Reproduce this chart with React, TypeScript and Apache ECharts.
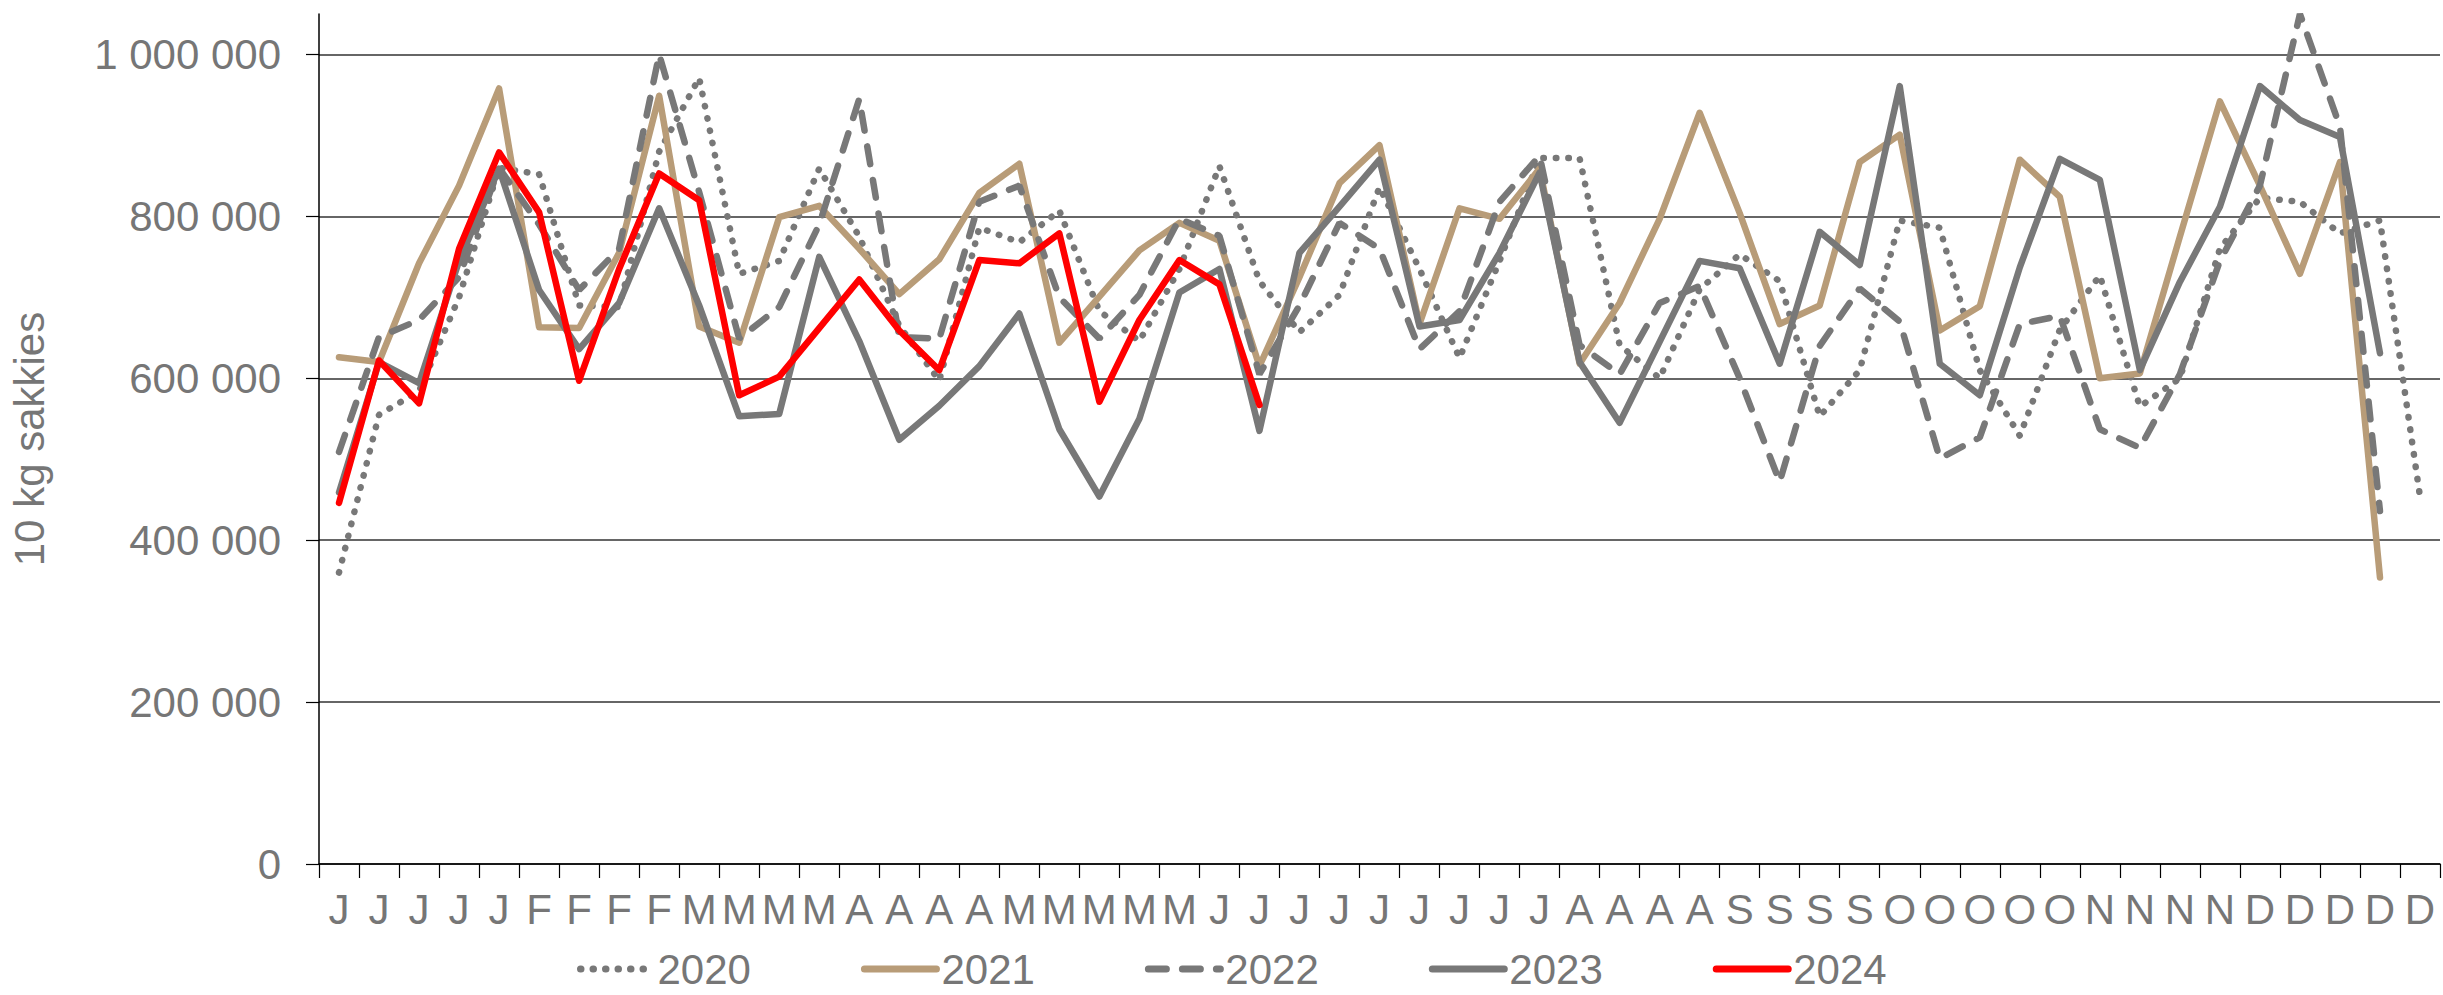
import React, { useEffect, useRef } from "react";
import * as echarts from "echarts";

const categories = [
  "J", "J", "J", "J", "J",
  "F", "F", "F", "F",
  "M", "M", "M", "M",
  "A", "A", "A", "A",
  "M", "M", "M", "M", "M",
  "J", "J", "J", "J", "J", "J", "J", "J", "J",
  "A", "A", "A", "A",
  "S", "S", "S", "S",
  "O", "O", "O", "O", "O",
  "N", "N", "N", "N",
  "D", "D", "D", "D", "D",
];

const s2020 = [
  360000, 555000, 584000, 700000, 860000, 852000, 690000, 688000, 880000, 971000,
  729000, 745000, 859000, 775000, 665000, 597000, 786000, 768000, 807000, 683000,
  646000, 735000, 862000, 720000, 657000, 703000, 836000, 735000, 625000, 745000,
  872000, 872000, 641000, 600000, 710000, 753000, 720000, 553000, 610000, 795000,
  786000, 610000, 529000, 660000, 727000, 565000, 600000, 760000, 823000, 818000,
  779000, 795000, 454000,
];

const s2021 = [
  626000, 620000, 742000, 838000, 958000, 663000, 662000, 755000, 949000, 664000,
  644000, 799000, 813000, 760000, 704000, 747000, 829000, 865000, 644000, 701000,
  758000, 792000, 770000, 615000, 725000, 841000, 888000, 667000, 810000, 797000,
  859000, 618000, 693000, 797000, 928000, 804000, 667000, 690000, 867000, 901000,
  659000, 689000, 870000, 824000, 600000, 606000, 775000, 942000, 838000, 729000,
  867000, 354000,
];

const s2022 = [
  509000, 651000, 672000, 725000, 860000, 790000, 709000, 760000, 1000000, 830000,
  649000, 688000, 790000, 945000, 651000, 649000, 818000, 838000, 700000, 649000,
  703000, 797000, 776000, 605000, 690000, 792000, 760000, 636000, 683000, 818000,
  875000, 641000, 605000, 693000, 714000, 600000, 472000, 640000, 711000, 670000,
  501000, 527000, 667000, 677000, 537000, 514000, 605000, 745000, 838000, 1050000,
  911000, 436000,
];

const s2023 = [
  459000, 620000, 594000, 745000, 859000, 709000, 636000, 693000, 810000, 690000,
  553000, 556000, 750000, 646000, 524000, 566000, 615000, 680000, 537000, 454000,
  550000, 706000, 735000, 535000, 755000, 812000, 870000, 664000, 672000, 755000,
  854000, 620000, 545000, 645000, 745000, 736000, 618000, 781000, 740000, 961000,
  618000, 579000, 737000, 871000, 845000, 610000, 719000, 812000, 961000, 919000,
  898000, 631000,
];

const s2024 = [
  446000, 622000, 569000, 760000, 879000, 805000, 597000, 735000, 853000, 820000,
  579000, 602000, 662000, 722000, 659000, 610000, 746000, 742000, 779000, 571000,
  672000, 746000, 716000, 567000,
];

const yTicks = [0, 200000, 400000, 600000, 800000, 1000000];
const legendNames = ["2020", "2021", "2022", "2023", "2024"];

const fmt = (v: number) => String(v).replace(/\B(?=(\d{3})+(?!\d))/g, " ");

export default function App() {
  const ref = useRef<HTMLDivElement>(null);

  useEffect(() => {
    if (!ref.current) return;
    const chart = echarts.init(ref.current, null, { renderer: "svg" });
    const gray = "#787878";
    const tan = "#b89c78";
    const red = "#ff0000";
    const textGray = "#767676";
    const font = "'Liberation Sans', Arial, Helvetica, sans-serif";
    const lw = 6.5;

    chart.setOption({
      animation: false,
      backgroundColor: "#ffffff",
      grid: { left: 318, right: 3, top: 14, bottom: 131, containLabel: false },
      xAxis: {
        type: "category",
        data: categories,
        boundaryGap: true,
        axisLine: { show: true, lineStyle: { color: "#000000", width: 1.5 } },
        axisTick: { show: true, interval: 0, length: 14, lineStyle: { color: "#000000", width: 1.2 } },
        axisLabel: { interval: 0, color: textGray, fontSize: 42, fontFamily: font, margin: 24 },
        splitLine: { show: false },
      },
      yAxis: {
        type: "value",
        min: 0,
        max: 1050000,
        interval: 200000,
        name: "10 kg sakkies",
        nameLocation: "middle",
        nameGap: 269,
        nameTextStyle: { color: textGray, fontSize: 42, fontFamily: font },
        axisLine: { show: true, lineStyle: { color: "#000000", width: 1.5 } },
        axisTick: { show: true, length: 13, lineStyle: { color: "#000000", width: 1.2 }, customValues: yTicks },
        axisLabel: {
          color: textGray,
          fontSize: 42,
          fontFamily: font,
          margin: 38,
          formatter: fmt,
          customValues: yTicks,
        },
        splitLine: { show: true, lineStyle: { color: "#333333", width: 1.5 } },
      },
      legend: {
        data: legendNames,
        left: 572,
        top: 943,
        itemWidth: 72,
        itemHeight: 14,
        itemGap: 110,
        itemStyle: { opacity: 0 },
        lineStyle: { width: 7, cap: "round" },
        textStyle: { color: textGray, fontSize: 42, fontFamily: font },
      },
      series: [
        {
          name: "2020",
          type: "line",
          data: s2020,
          symbol: "none",
          itemStyle: { color: gray },
          lineStyle: { color: gray, width: lw, type: [0.5, 12], cap: "round" },
        },
        {
          name: "2021",
          type: "line",
          data: s2021,
          symbol: "none",
          itemStyle: { color: tan },
          lineStyle: { color: tan, width: lw, cap: "round", join: "round" },
        },
        {
          name: "2022",
          type: "line",
          data: s2022,
          symbol: "none",
          itemStyle: { color: gray },
          lineStyle: { color: gray, width: lw, type: [18, 16], cap: "round" },
        },
        {
          name: "2023",
          type: "line",
          data: s2023,
          symbol: "none",
          itemStyle: { color: gray },
          lineStyle: { color: gray, width: lw, cap: "round", join: "round" },
        },
        {
          name: "2024",
          type: "line",
          data: s2024,
          symbol: "none",
          itemStyle: { color: red },
          lineStyle: { color: red, width: lw, cap: "round", join: "round" },
        },
      ],
    });

    return () => {
      chart.dispose();
    };
  }, []);

  return (
    <div
      ref={ref}
      style={{ position: "fixed", left: 0, top: 0, width: 2443, height: 995, background: "#fff" }}
    />
  );
}
